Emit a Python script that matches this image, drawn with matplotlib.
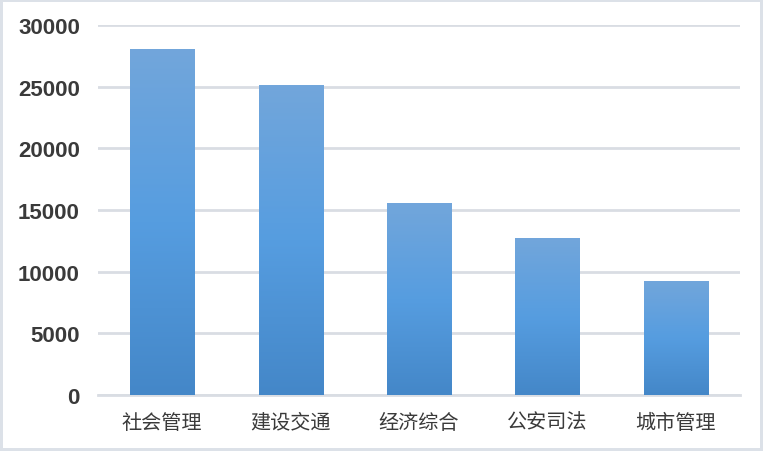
import numpy as np
import matplotlib
matplotlib.use('Agg')
import matplotlib.pyplot as plt
from matplotlib.colors import LinearSegmentedColormap

# data
categories = ['社会管理', '建设交通', '经济综合', '公安司法', '城市管理']
values = [28050, 25120, 15560, 12720, 9250]
yticks = [0, 5000, 10000, 15000, 20000, 25000, 30000]

text_color = '#3A3A3A'
grid_color = '#D9DDE3'

# bottom -> middle -> top
cmap = LinearSegmentedColormap.from_list('bar', ['#4487C8', '#569DE0', '#72A6DB'])

fig = plt.figure(figsize=(7.63, 4.52), dpi=100)
fig.patch.set_facecolor('white')
fig.patch.set_edgecolor('#DCE1E8')
fig.patch.set_linewidth(3)

ax = fig.add_axes([98 / 763, (452 - 396) / 452, 642 / 763, 370 / 452])
ax.set_xlim(-0.5, len(categories) - 0.5)
ax.set_ylim(0, 30000)

bars = ax.bar(range(len(categories)), values, width=0.5, color='none', zorder=3)

# vertical gradient inside each bar
grad = np.linspace(0, 1, 256).reshape(-1, 1)
for b in bars:
    x0, y0 = b.get_x(), b.get_y()
    x1, y1 = x0 + b.get_width(), y0 + b.get_height()
    im = ax.imshow(grad, cmap=cmap, origin='lower', aspect='auto',
                   extent=[x0, x1, y0, y1], zorder=3, interpolation='bilinear')
    im.set_clip_path(b)
ax.set_xlim(-0.5, len(categories) - 0.5)
ax.set_ylim(0, 30000)

ax.set_yticks(yticks)
ax.set_yticklabels([str(v) for v in yticks], fontfamily='Liberation Sans',
                   fontweight='bold', fontsize=16, color=text_color)
ax.set_xticks(range(len(categories)))
ax.set_xticklabels(categories, fontfamily=['Noto Sans CJK SC', 'DejaVu Sans'],
                   fontsize=14.5, fontweight='medium', color=text_color)
ax.tick_params(axis='y', length=0, pad=13)
ax.tick_params(axis='x', length=0, pad=12)

ax.grid(axis='y', color=grid_color, linewidth=2, zorder=0)
ax.set_axisbelow(True)
for s in ['top', 'right', 'left']:
    ax.spines[s].set_visible(False)
ax.spines['bottom'].set_color(grid_color)
ax.spines['bottom'].set_linewidth(2)

fig.savefig('out.png', dpi=100, facecolor=fig.get_facecolor(), edgecolor=fig.get_edgecolor())
